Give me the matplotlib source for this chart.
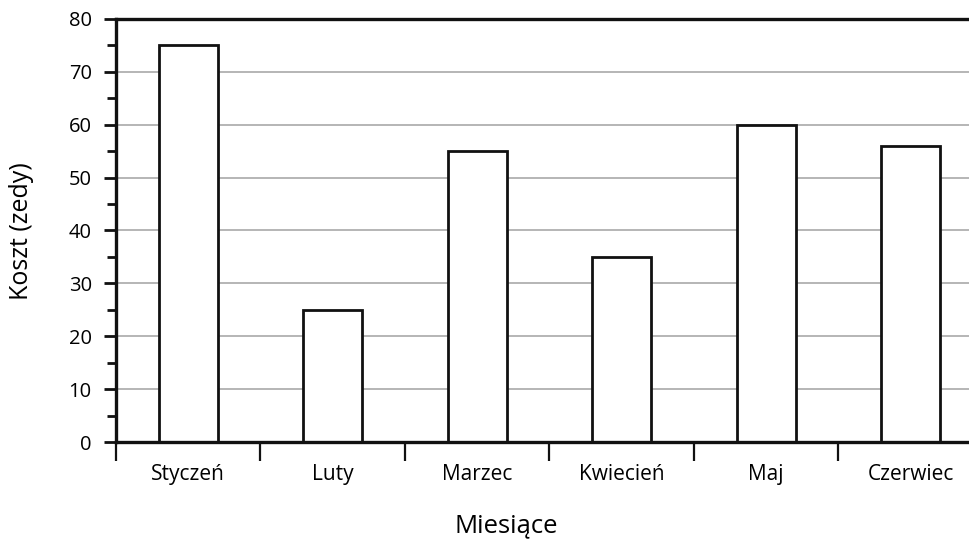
import matplotlib.pyplot as plt
import numpy as np
from matplotlib.ticker import FixedLocator, MultipleLocator

months = ["Styczeń", "Luty", "Marzec", "Kwiecień", "Maj", "Czerwiec"]
costs = [75, 25, 55, 35, 60, 56]
y_ticks = [0, 10, 20, 30, 40, 50, 60, 70, 80]

plt.rcParams["font.family"] = ["Open Sans", "DejaVu Sans"]

fig = plt.figure(figsize=(9.70, 5.39), dpi=100)
# axes runs past the right edge of the figure, like the original
ax = fig.add_axes([116 / 970, 1 - 442 / 539, 867 / 970, 423 / 539])

x = np.arange(len(months))
ax.bar(x, costs, width=0.41, color="white", edgecolor="#111111", linewidth=2, zorder=3)

ax.set_xlim(-0.5, len(months) - 0.5)
ax.set_ylim(0, 80)

ax.set_yticks(y_ticks)
ax.yaxis.set_minor_locator(MultipleLocator(5))
ax.grid(axis="y", color="#b5b5b5", linewidth=1.4, zorder=0)

# category boundaries carry the ticks, labels sit in the middle
ax.xaxis.set_major_locator(FixedLocator(np.arange(len(months)) - 0.5))
ax.xaxis.set_major_formatter(plt.NullFormatter())
ax.set_xticks(x, minor=True)
ax.set_xticklabels(months, minor=True, fontsize=15)
ax.tick_params(axis="x", which="major", direction="out", length=14, width=1.6, color="#111111")
ax.tick_params(axis="x", which="minor", length=0, pad=16)

ax.tick_params(axis="y", which="major", length=8.5, width=2, color="#111111", labelsize=14.5, pad=9)
ax.tick_params(axis="y", which="minor", length=6.5, width=2, color="#111111")

for side in ["left", "top", "bottom", "right"]:
    ax.spines[side].set_linewidth(2.4)
    ax.spines[side].set_color("#111111")
ax.spines["bottom"].set_zorder(4)

fig.text(22 / 970, 1 - 231 / 539, "Koszt (zedy)", fontsize=18, rotation=90, ha="center", va="center")
fig.text(506 / 970, 1 - 532 / 539, "Miesiące", fontsize=18.5, ha="center", va="baseline")

fig.savefig("out.png", dpi=100)
